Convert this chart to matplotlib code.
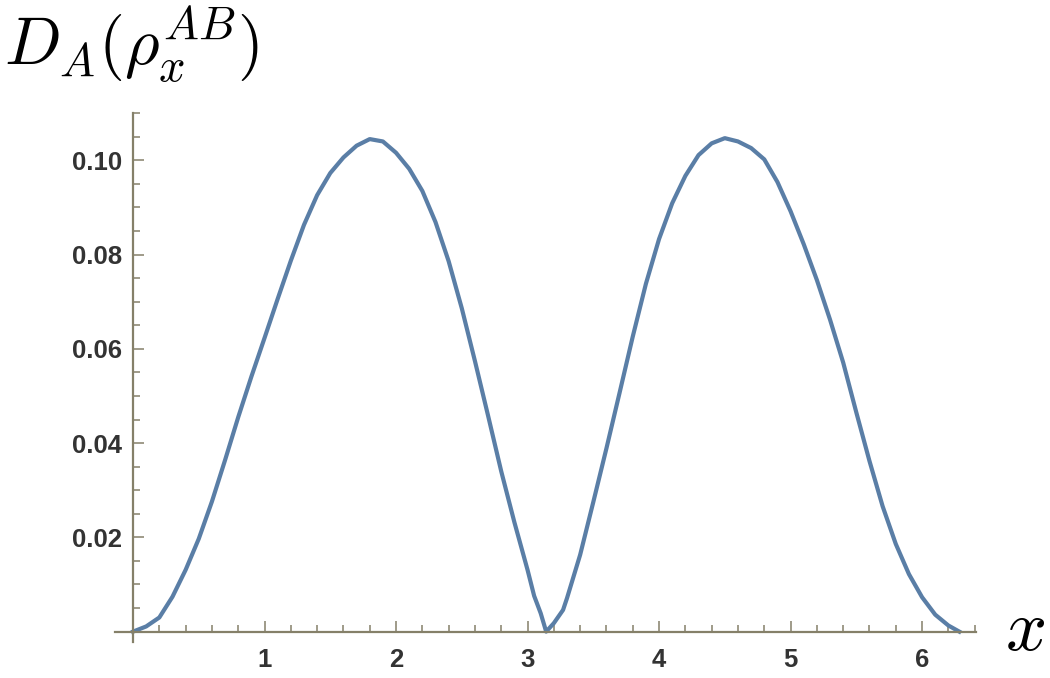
import numpy as np
import matplotlib
matplotlib.use("Agg")
import matplotlib.pyplot as plt
from matplotlib.ticker import MultipleLocator

# values
x_vals = [0.0, 0.1, 0.2, 0.3, 0.4, 0.5, 0.6, 0.7, 0.8, 0.9,
          1.0, 1.1, 1.2, 1.3, 1.4, 1.5, 1.6, 1.7, 1.8, 1.9,
          2.0, 2.1, 2.2, 2.3, 2.4, 2.5, 2.6, 2.7, 2.8, 2.9,
          3.0, 3.05, 3.1, 3.1416, 3.2, 3.27, 3.3, 3.4, 3.5, 3.6,
          3.7, 3.8, 3.9, 4.0, 4.1, 4.2, 4.3, 4.4, 4.5, 4.6,
          4.7, 4.8, 4.9, 5.0, 5.1, 5.2, 5.3, 5.4, 5.5, 5.6,
          5.7, 5.8, 5.9, 6.0, 6.1, 6.2, 6.2832]
d_vals = [0.0, 0.0011, 0.0030, 0.0074, 0.0131, 0.0197, 0.0276, 0.0364, 0.0455, 0.0541,
          0.0623, 0.0706, 0.0787, 0.0863, 0.0926, 0.0973, 0.1006, 0.1031, 0.1045, 0.1040,
          0.1016, 0.0982, 0.0935, 0.0869, 0.0786, 0.0686, 0.0574, 0.0458, 0.0340, 0.0232,
          0.0131, 0.0076, 0.0039, 0.0, 0.0018, 0.0046, 0.0071, 0.0163, 0.0275, 0.0389,
          0.0507, 0.0626, 0.0738, 0.0833, 0.0909, 0.0967, 0.1011, 0.1036, 0.1047, 0.1040,
          0.1026, 0.1002, 0.0954, 0.0892, 0.0822, 0.0746, 0.0662, 0.0571, 0.0465, 0.0362,
          0.0266, 0.0186, 0.0122, 0.0073, 0.0036, 0.0013, 0.0]

xticks = [1, 2, 3, 4, 5, 6]
yticks = [0.02, 0.04, 0.06, 0.08, 0.10]
ytick_labels = ["0.02", "0.04", "0.06", "0.08", "0.10"]

axis_col = "#858069"
line_col = "#5a7ea6"

fig = plt.figure(figsize=(10.5, 6.78), dpi=100)
ax = fig.add_axes([115 / 1050, 36 / 678, 861 / 1050, 529.3 / 678])

ax.plot(x_vals, d_vals, color=line_col, lw=3.0, solid_joinstyle="round")

ax.set_xlim(-0.137, 6.41)
ax.set_ylim(-0.0022, 0.1101)

for s in ["top", "right"]:
    ax.spines[s].set_visible(False)
ax.spines["left"].set_position(("data", 0))
ax.spines["bottom"].set_position(("data", 0))
for s in ["left", "bottom"]:
    ax.spines[s].set_color(axis_col)
    ax.spines[s].set_linewidth(1.6)

ax.set_xticks(xticks)
ax.set_yticks(yticks)
ax.set_yticklabels(ytick_labels)
ax.xaxis.set_minor_locator(MultipleLocator(0.2))
ax.yaxis.set_minor_locator(MultipleLocator(0.005))

ax.tick_params(which="both", direction="in", color=axis_col, width=1.1)
ax.tick_params(which="major", length=8)
ax.tick_params(which="minor", length=5)
ax.tick_params(axis="x", which="major", pad=12)
ax.tick_params(axis="y", which="major", pad=8)
for lab in ax.get_xticklabels() + ax.get_yticklabels():
    lab.set_family("Liberation Sans")
    lab.set_fontsize(18.5)
    lab.set_weight("bold")
    lab.set_color("#333333")

plt.rcParams["mathtext.fontset"] = "cm"
fig.text(4 / 1050, 1 - 66 / 678, r"$D_A(\rho_x^{AB})$", fontsize=48,
         ha="left", va="baseline")
fig.text(1025 / 1050, 1 - 650 / 678, r"$x$", fontsize=52,
         ha="center", va="baseline")

fig.savefig("out.png", dpi=100)
